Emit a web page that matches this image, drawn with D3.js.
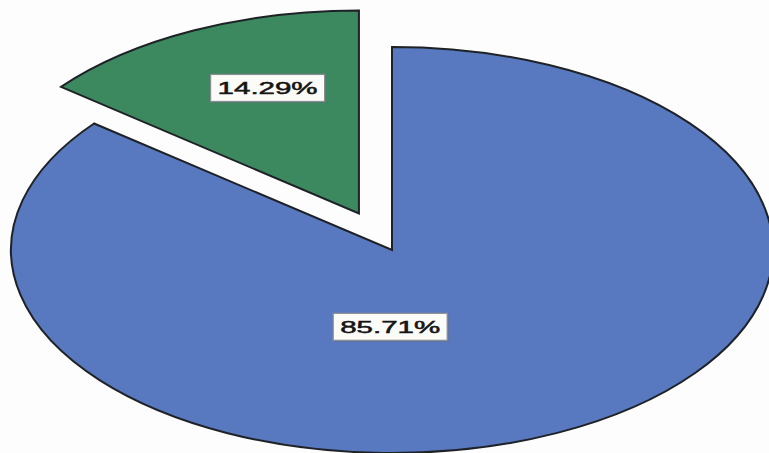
<!DOCTYPE html>
<html><head><meta charset="utf-8">
<script src="https://cdn.jsdelivr.net/npm/d3@7"></script>
<style>html,body{margin:0;padding:0;background:#fdfdfd;}svg{display:block;}</style>
</head><body>
<svg id="chart" width="769" height="453"></svg>
<script>
const categories = ["A", "B"];
const values = [85.71, 14.29];
const labels = ["85.71%", "14.29%"];
const colors = ["#5878bf", "#3d895f"];

const W = 769, H = 453;
const cx = 392, cy = 250, rx = 381, ry = 203, R = 200;
const explode = [0, 0.2];
const labelR = [0.42, 0.686];
const labelShift = [[-0.187, 0], [0.058, 0]];

const svg = d3.select("#chart");
svg.append("rect").attr("width", W).attr("height", H).attr("fill", "#fdfdfd");

const pie = d3.pie().sort(null).value(d => d)(values);
const arc = d3.arc().innerRadius(0).outerRadius(R);

const g = svg.append("g").attr("transform", `translate(${cx},${cy}) scale(${rx / R},${ry / R})`);

pie.forEach((p, i) => {
  const mid = (p.startAngle + p.endAngle) / 2;
  const ox = Math.sin(mid) * R * explode[i];
  const oy = -Math.cos(mid) * R * explode[i];
  g.append("path")
    .attr("d", arc(p))
    .attr("transform", `translate(${ox},${oy})`)
    .attr("fill", colors[i])
    .attr("stroke", "#1e2226")
    .attr("stroke-width", 2)
    .attr("stroke-linejoin", "miter")
    .attr("vector-effect", "non-scaling-stroke");
});

pie.forEach((p, i) => {
  const mid = (p.startAngle + p.endAngle) / 2;
  const ux = Math.sin(mid) * (explode[i] + labelR[i]) + labelShift[i][0];
  const uy = -Math.cos(mid) * (explode[i] + labelR[i]) + labelShift[i][1];
  const x = cx + ux * rx, y = cy + uy * ry;
  const bw = 114, bh = 27;
  const lg = svg.append("g").attr("transform", `translate(${x},${y})`);
  lg.append("rect").attr("x", -bw / 2 + 1.5).attr("y", -bh / 2 + 1.5).attr("width", bw).attr("height", bh).attr("fill", "#6b6f78").attr("opacity", 0.5);
  lg.append("rect").attr("x", -bw / 2).attr("y", -bh / 2).attr("width", bw).attr("height", bh)
    .attr("fill", "#fbfbf8").attr("stroke", "#8a8d92").attr("stroke-width", 1.2);
  lg.append("text").attr("x", -50).attr("y", 6)
    .attr("font-family", "Liberation Sans, Arial, sans-serif")
    .attr("font-size", 17).attr("fill", "#151515")
    .attr("stroke", "#151515").attr("stroke-width", 0.5)
    .attr("textLength", 100).attr("lengthAdjust", "spacingAndGlyphs")
    .text(labels[i]);
});
</script>
</body></html>
